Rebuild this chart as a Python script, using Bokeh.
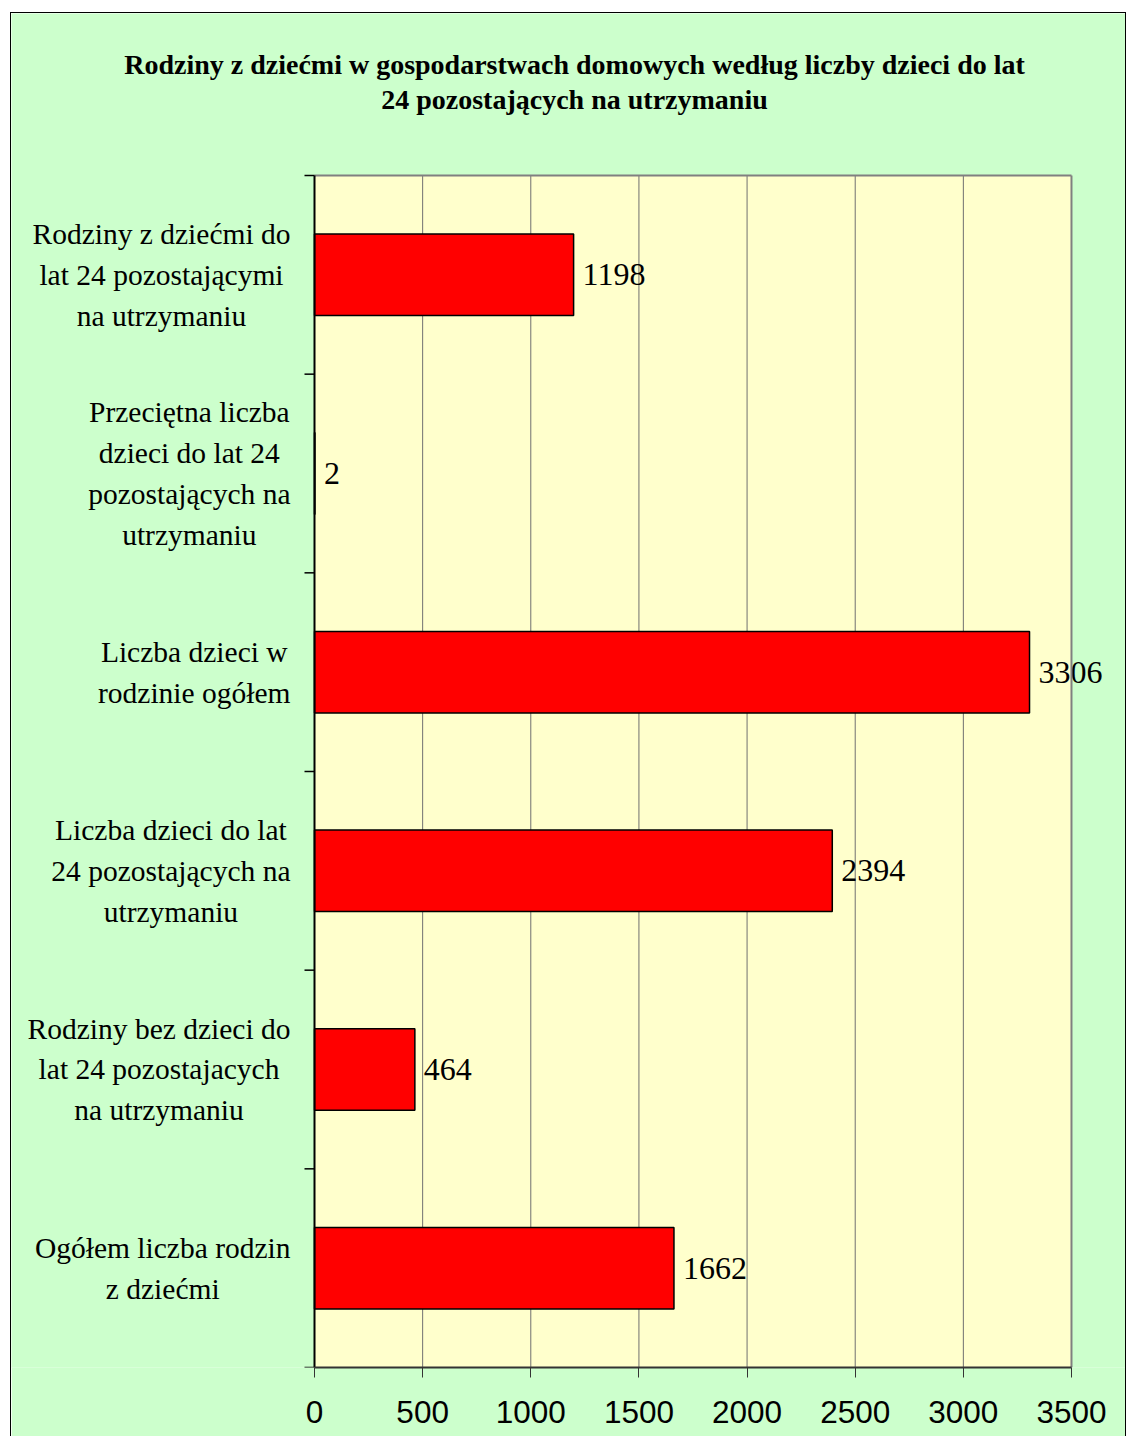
import math
from bokeh.plotting import figure
from bokeh.models import ColumnDataSource, FixedTicker, Range1d
from bokeh.core.properties import value
from bokeh.embed import file_html
from bokeh.resources import INLINE

title_text = "Rodziny z dziećmi w gospodarstwach domowych według liczby dzieci do lat\n24 pozostających na utrzymaniu"

categories = [
    "Rodziny z dziećmi do\nlat 24 pozostającymi\nna utrzymaniu",
    "Przeciętna liczba\ndzieci do lat 24\npozostających na\nutrzymaniu",
    "Liczba dzieci w\nrodzinie ogółem",
    "Liczba dzieci do lat\n24 pozostających na\nutrzymaniu",
    "Rodziny bez dzieci do\nlat 24 pozostajacych\nna utrzymaniu",
    "Ogółem liczba rodzin\nz dziećmi",
]
values = [1198, 2, 3306, 2394, 464, 1662]
x_ticks = [0, 500, 1000, 1500, 2000, 2500, 3000, 3500]

n = len(categories)
pos = [n - i - 0.5 for i in range(n)]
bounds = list(range(n + 1))

# layout: frame covers the whole canvas except the bottom axis panel
X_START, X_END = -1401, 3759
Y_END = n + 0.8154

bars = ColumnDataSource(dict(pos=pos, value=values, label=[str(v) for v in values],
                             cat=categories, zero=[0] * n))

p = figure(width=1116, height=1424, output_backend="svg", toolbar_location=None,
           x_range=Range1d(X_START, X_END), y_range=Range1d(0, Y_END),
           min_border_left=0, min_border_right=0, min_border_top=0, min_border_bottom=70)
p.margin = (12, 0, 0, 10)
p.styles = {"border": "1px solid black", "border-bottom": "none"}
p.border_fill_color = "#CCFFCC"
p.background_fill_color = "#CCFFCC"
p.outline_line_color = None
p.xgrid.visible = False
p.ygrid.visible = False
p.yaxis.visible = False

x0, x1 = x_ticks[0], x_ticks[-1]

# plot area
p.quad(left=x0, right=x1, bottom=0, top=n, fill_color="#FFFFCC", line_color=None)
# vertical grid lines
p.segment(x0=x_ticks[1:-1], y0=0, x1=x_ticks[1:-1], y1=n, line_color="#707070", line_width=1)

p.hbar(y="pos", right="value", left=0, height=0.41, source=bars,
       fill_color="#FF0000", line_color="black", line_width=1.5)

p.text(x="value", y="pos", text="label", source=bars, x_offset=9,
       text_align="left", text_baseline="middle", text_font=value("Liberation Serif"),
       text_font_size="32px", text_color="black")

# plot area top/right edges drawn over the labels
p.segment(x0=[x0, x1], y0=[n, 0], x1=[x1, x1], y1=[n, n], line_color="#808080", line_width=2)

# category axis line and ticks at category boundaries
p.segment(x0=[0], y0=[0], x1=[0], y1=[n], line_color="black", line_width=2)
p.ray(x=[0] * len(bounds), y=bounds, length=10, length_units="screen", angle=math.pi,
      line_color="black", line_width=1.5)

p.text(x="zero", y="pos", text="cat", source=bars, x_offset=-24, anchor="center_right",
       text_align="center", text_baseline="middle", text_font=value("Liberation Serif"),
       text_font_size="29.5px", text_line_height=1.28, text_color="black")

p.text(x=[(X_START + X_END) / 2], y=[n + 0.47], text=[title_text], x_offset=5,
       text_align="center", text_baseline="middle", text_font=value("Liberation Serif"),
       text_font_size="28px", text_font_style="bold", text_line_height=1.13, text_color="black")

p.xaxis.bounds = (x0, x1)
p.xaxis.ticker = FixedTicker(ticks=x_ticks)
p.xaxis.major_label_text_font = "Liberation Sans"
p.xaxis.major_label_text_font_size = "31.5px"
p.xaxis.major_label_text_color = "black"
p.xaxis.major_tick_out = 10
p.xaxis.major_tick_in = 0
p.xaxis.minor_tick_line_color = None
p.xaxis.axis_line_color = "#333333"
p.xaxis.axis_line_width = 2
p.xaxis.major_tick_line_color = "#333333"
p.xaxis.major_label_standoff = 23

open("out.html", "w").write(file_html(p, INLINE))
